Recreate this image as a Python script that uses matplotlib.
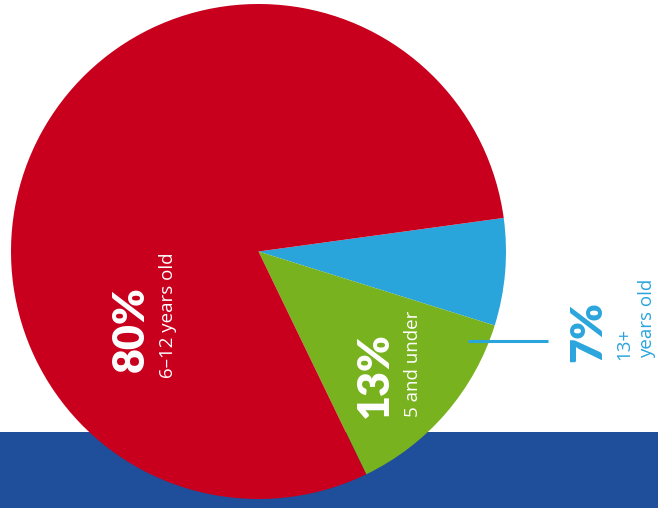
import matplotlib
matplotlib.use("Agg")
import matplotlib.pyplot as plt
from matplotlib.patches import Rectangle

# Data
categories = ["13+ years old", "5 and under", "6-12 years old"]
values = [7, 13, 80]
pct_labels = ["7%", "13%", "80%"]
sub_labels = ["13+\nyears old", "5 and under", "6–12 years old"]

colors = ["#2AA5DC", "#78B21F", "#C8001E"]
band_color = "#1F4E9B"

W, H = 658, 508
fig = plt.figure(figsize=(W / 100, H / 100), dpi=100)
fig.patch.set_facecolor("white")
ax = fig.add_axes([0, 0, 1, 1])

def Y(y_img):
    return H - y_img

# bottom band
ax.add_patch(Rectangle((0, 0), W, H - 432, facecolor=band_color, edgecolor="none", zorder=0))

ax.pie(values, colors=colors, startangle=7.8, counterclock=False,
       center=(258.5, Y(251.5)), radius=247.5,
       wedgeprops=dict(linewidth=0, zorder=2), frame=False)

ax.set_xlim(0, W)
ax.set_ylim(0, H)
ax.set_aspect("equal")
ax.axis("off")

big = dict(fontfamily="Lato", fontweight="heavy", fontsize=31, rotation=90,
           rotation_mode="anchor", ha="left", va="center", zorder=5)
small = dict(fontfamily="Open Sans", fontweight="normal", fontsize=13.5, rotation=90,
             rotation_mode="anchor", ha="left", va="center", zorder=5)

# 80%
ax.text(131, Y(372), pct_labels[2], color="white", **big)
ax.text(168, Y(378), sub_labels[2], color="white", **small)
# 13%
ax.text(375, Y(418), pct_labels[1], color="white", **big)
ax.text(413, Y(417), sub_labels[1], color="white", **small)
# 7%
ax.text(588, Y(362), pct_labels[0], color=colors[0], **big)
l1, l2 = sub_labels[0].split("\n")
ax.text(624, Y(360), l1, color=colors[0], **small)
ax.text(647, Y(358), l2, color=colors[0], **small)

# connector line
ax.plot([468, 548], [Y(341), Y(341)], color=colors[0], lw=2.2, solid_capstyle="butt", zorder=4)

fig.savefig("out.png", dpi=100, facecolor="white")
